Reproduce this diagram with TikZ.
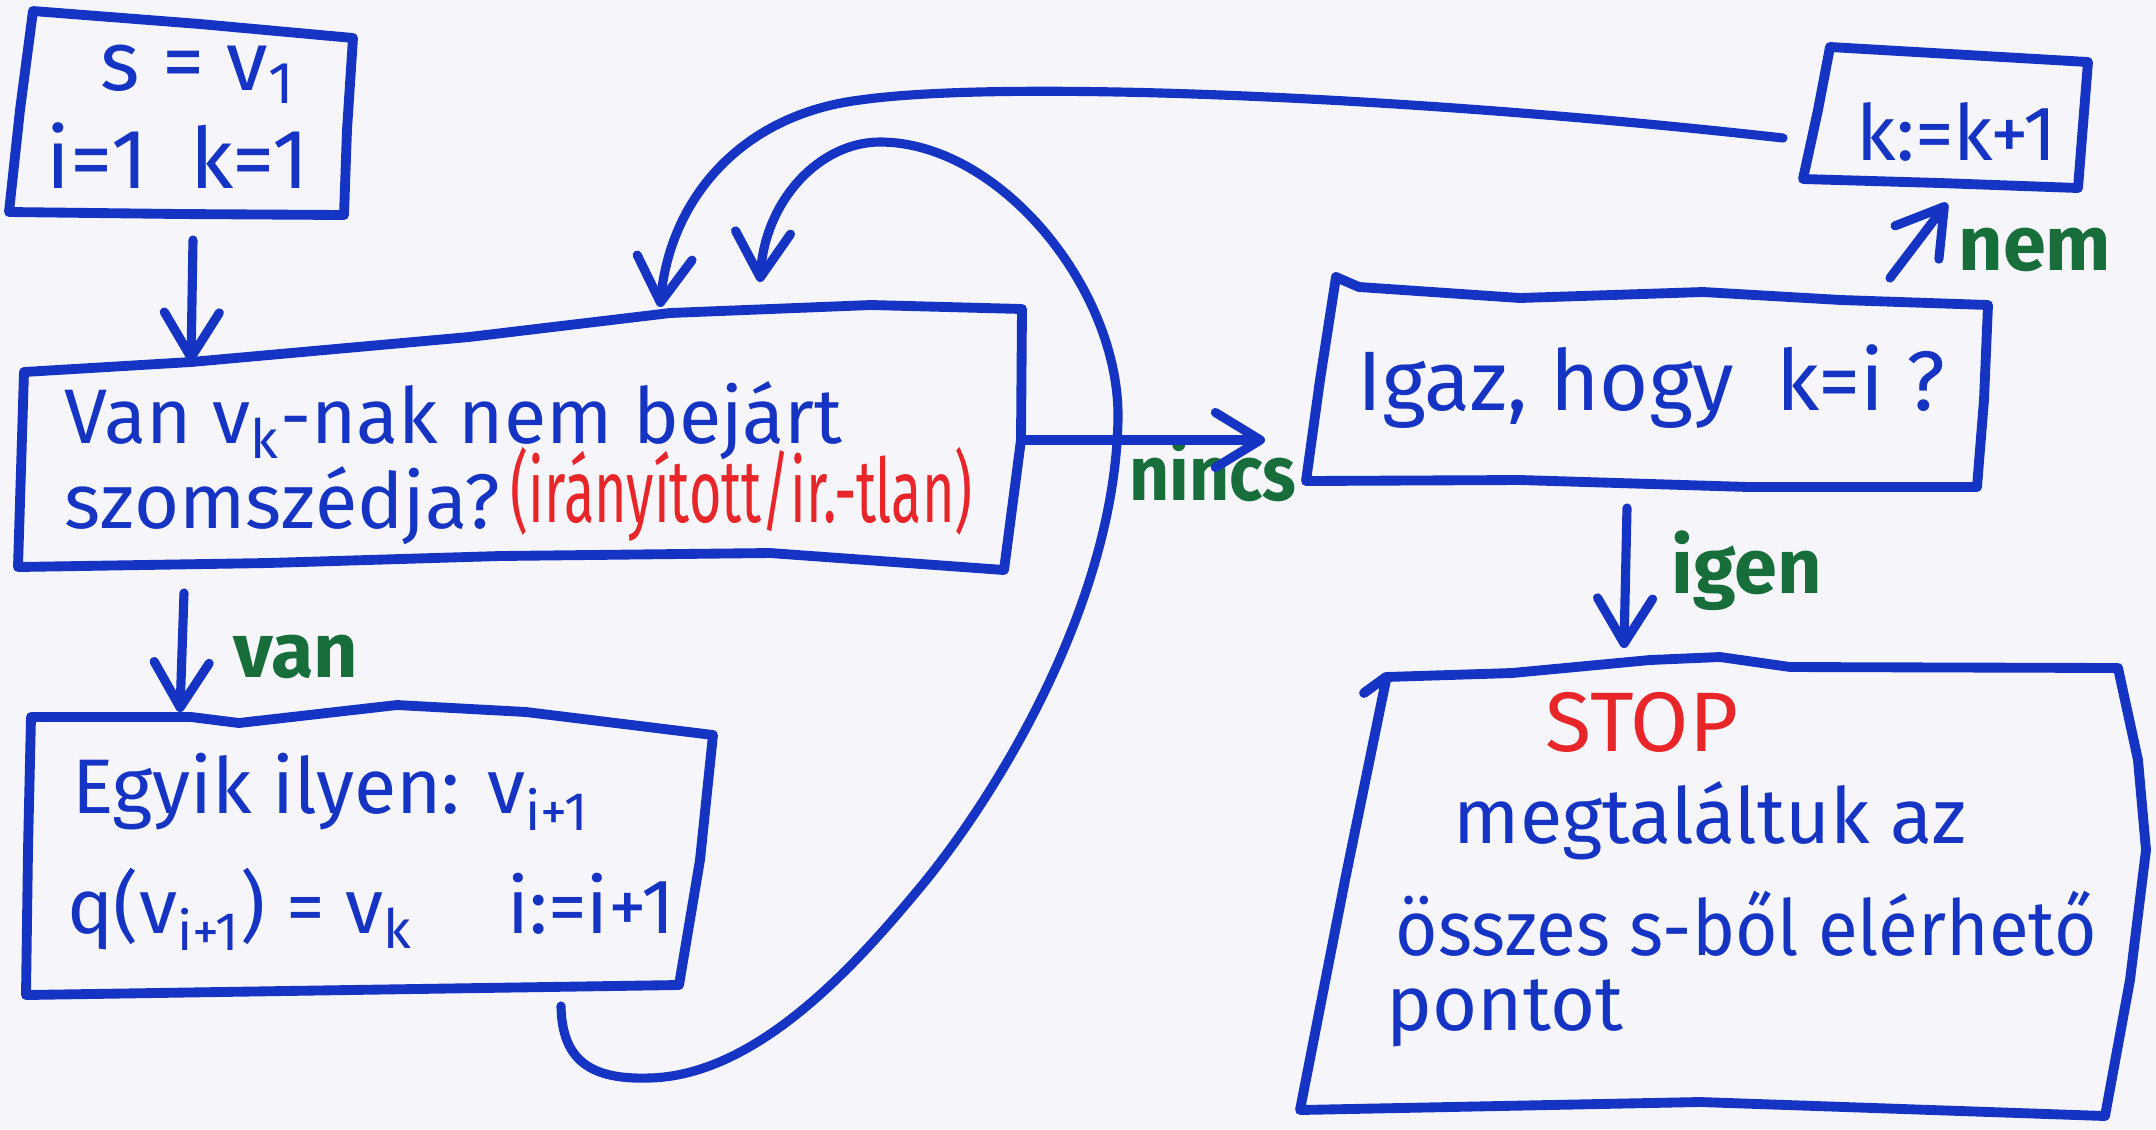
\documentclass[tikz,border=0pt]{standalone}
\usepackage{fontspec}
\setmainfont{Fira Sans}
\usepackage{graphicx}
\usetikzlibrary{arrows.meta}
\definecolor{inkblue}{RGB}{22,52,196}
\definecolor{inkred}{RGB}{232,38,42}
\definecolor{inkgreen}{RGB}{24,110,58}
\definecolor{paper}{RGB}{246,246,250}
\begin{document}
\begin{tikzpicture}[x=0.01cm,y=-0.01cm,
  box/.style={draw=inkblue, line width=2.8pt, line join=round, line cap=round},
  conn/.style={draw=inkblue, line width=2.6pt, line cap=round, line join=round,
    -{Straight Barb[length=4.5mm,width=5.5mm,round]}},
  txt/.style={text=inkblue, inner sep=0pt, font=\fontsize{22}{26}\selectfont},
  redtxt/.style={text=inkred, inner sep=0pt, font=\fontsize{22}{26}\selectfont},
  lbl/.style={text=inkgreen, inner sep=0pt, font=\fontsize{22}{26}\selectfont\bfseries}]

% sheet
\fill[paper] (0,0) rectangle (2156,1129);

% ---- box outlines (hand-drawn quadrilaterals)
\draw[box] (33,11) -- (200,24) -- (353,38) -- (347,130) -- (344,215) -- (180,214) -- (9,212) -- (20,110) -- cycle;
\draw[box] (24,372) -- (191,362) -- (469,337) -- (670,313) -- (871,305) -- (1022,309)
  -- (1021,440) -- (1004,570) -- (770,553) -- (500,556) -- (268,563) -- (18,567) -- (21,470) -- cycle;
\draw[box] (31,717) -- (191,717) -- (239,723) -- (397,705) -- (526,712) -- (713,735)
  -- (700,860) -- (679,985) -- (350,990) -- (26,995) -- (28,850) -- cycle;
\draw[box] (1336,277) -- (1359,287) -- (1520,298) -- (1703,292) -- (1841,300) -- (1988,305)
  -- (1984,400) -- (1977,487) -- (1749,487) -- (1520,480) -- (1306,481) -- (1320,380) -- cycle;
\draw[box] (1830,47) -- (2088,62) -- (2083,125) -- (2078,188) -- (1940,183) -- (1803,179) -- (1818,110) -- cycle;
\draw[box] (1364,693) -- (1386,677) -- (1512,673) -- (1650,660) -- (1720,657) -- (1790,667) -- (2118,668)
  -- (2138,760) -- (2146,850) -- (2130,980) -- (2105,1116) -- (1700,1102) -- (1300,1110) -- (1345,880) -- (1386,680);

% ---- texts
\node[txt, anchor=base, font=\fontsize{24}{28}\selectfont] (s1) at (198,90) {s = v\textsubscript{1}};
\node[txt, anchor=base, font=\fontsize{24}{28}\selectfont] (s2) at (178,188) {i=1\enspace k=1};

\node[txt, anchor=base west] (q1) at (64,443) {Van v\textsubscript{k}-nak nem bejárt};
\node[txt, anchor=base west] (q2) at (64,528) {szomszédja?};
\node[redtxt, anchor=base west] (q3) at (510,522) {\scalebox{0.72}[1.15]{(irányított/ir.-tlan)}};

\node[txt, anchor=base west] (e1) at (72,813) {Egyik ilyen: v\textsubscript{i+1}};
\node[txt, anchor=base west] (e2) at (67,933) {q(v\textsubscript{i+1}) = v\textsubscript{k}};
\node[txt, anchor=base west] (e3) at (507,933) {i:=i+1};

\node[txt, anchor=base west, font=\fontsize{24}{28}\selectfont] (c1) at (1357,410) {Igaz, hogy\enspace k=i ?};

\node[txt, anchor=center] (k1) at (1957,132) {k:=k+1};

\node[redtxt, anchor=center, font=\fontsize{24}{28}\selectfont] (st) at (1642,722) {STOP};
\node[txt, anchor=base west] (m1) at (1453,843) {megtaláltuk az};
\node[txt, anchor=base west] (m2) at (1395,955) {\scalebox{0.94}[1]{összes s-ből elérhető}};
\node[txt, anchor=base west] (m3) at (1386,1030) {pontot};

% ---- branch labels
\node[lbl, anchor=base] (lvan) at (296,677) {van};
\node[lbl, anchor=base] (lnincs) at (1213,500) {\scalebox{0.9}[1]{nincs}};
\node[lbl, anchor=base] (ligen) at (1747,593) {igen};
\node[lbl, anchor=base] (lnem) at (2035,270) {nem};

% ---- connector end points
\coordinate (b1out) at (193,240);
\coordinate (b2inA) at (191,362);
\coordinate (b2outD) at (184,593);
\coordinate (b3in) at (180,712);
\coordinate (b2outR) at (1024,440);
\coordinate (b4in) at (1265,440);
\coordinate (b4outD) at (1627,508);
\coordinate (b6in) at (1624,648);
\coordinate (b4outU) at (1890,278);
\coordinate (b5in) at (1947,203);
\coordinate (b5out) at (1783,138);
\coordinate (b2inK) at (660,307);
\coordinate (b3out) at (561,1006);
\coordinate (b2inL) at (760,282);

% ---- connectors
\draw[conn] (b1out) -- (b2inA);
\draw[conn] (b2outD) -- (b3in);
\draw[conn] (b2outR) -- (b4in);
\draw[conn] (b4outD) -- (b6in);
\draw[conn] (b4outU) -- (b5in);
\draw[conn] (b5out) .. controls (1400,95) and (1000,80) .. (860,100)
  .. controls (740,115) and (670,200) .. (b2inK);
\draw[conn] (b3out) .. controls (562,1060) and (590,1080) .. (650,1078)
  .. controls (760,1075) and (860,960) .. (923,884)
  .. controls (1000,790) and (1115,600) .. (1118,419)
  .. controls (1120,290) and (1000,142) .. (880,142)
  .. controls (820,142) and (765,200) .. (b2inL);
\end{tikzpicture}
\end{document}
